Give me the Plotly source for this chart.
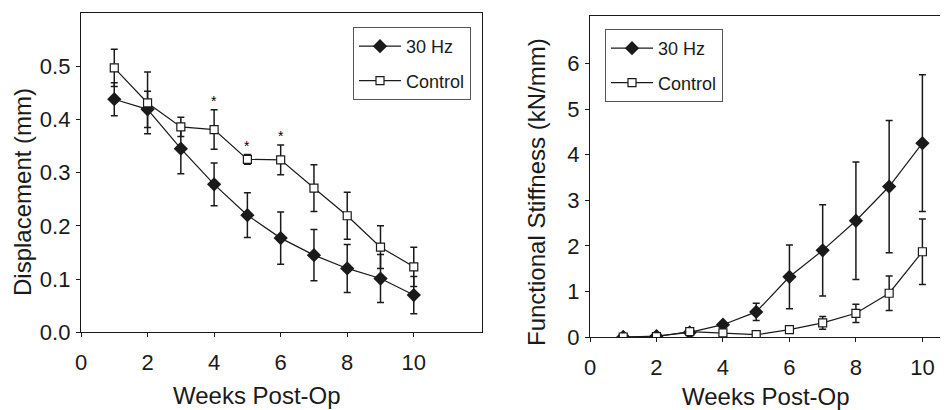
import plotly.graph_objects as go

weeks = [1, 2, 3, 4, 5, 6, 7, 8, 9, 10]

disp_30 = [0.438, 0.419, 0.345, 0.278, 0.220, 0.177, 0.145, 0.120, 0.101, 0.070]
disp_30_err = [0.031, 0.034, 0.047, 0.040, 0.042, 0.049, 0.048, 0.045, 0.045, 0.035]
disp_ctrl = [0.497, 0.431, 0.386, 0.381, 0.325, 0.324, 0.271, 0.219, 0.160, 0.123]
disp_ctrl_err = [0.035, 0.058, 0.018, 0.037, 0.009, 0.028, 0.044, 0.044, 0.040, 0.037]

stiff_30 = [0.0, 0.02, 0.10, 0.27, 0.55, 1.32, 1.90, 2.55, 3.30, 4.25]
stiff_30_err = [0, 0, 0.03, 0.05, 0.19, 0.70, 1.00, 1.29, 1.45, 1.50]
stiff_ctrl = [0.0, 0.01, 0.12, 0.09, 0.05, 0.16, 0.31, 0.52, 0.96, 1.87]
stiff_ctrl_err = [0, 0, 0.02, 0.02, 0.02, 0.03, 0.14, 0.20, 0.38, 0.72]

sig_weeks = [4, 5, 6]

C = "#1a1a1a"
FONT = "Liberation Sans, Arial, sans-serif"

# page body has an 8px margin: figure is 940x402 placed at (8, 8)
W, H, OFF = 940, 402, 8


def fx(px):
    return (px - OFF) / W


def fy(py):
    return 1 - (py - OFF) / H


fig = go.Figure()


def add_pair(x, y30, e30, yc, ec, xa, ya, leg):
    fig.add_trace(go.Scatter(
        x=x, y=y30, name="30 Hz", mode="lines+markers",
        line=dict(color=C, width=1.2),
        marker=dict(symbol="diamond", size=11, color=C),
        error_y=dict(type="data", array=e30, color=C, thickness=1.5, width=3.5),
        xaxis=xa, yaxis=ya, legend=leg, legendgroup=leg + "a"))
    fig.add_trace(go.Scatter(
        x=x, y=yc, name="Control", mode="lines+markers",
        line=dict(color=C, width=1.2),
        marker=dict(symbol="square", size=8, color="white", line=dict(color=C, width=1.2)),
        error_y=dict(type="data", array=ec, color=C, thickness=1.5, width=3.5),
        xaxis=xa, yaxis=ya, legend=leg, legendgroup=leg + "b"))


add_pair(weeks, disp_30, disp_30_err, disp_ctrl, disp_ctrl_err, "x", "y", "legend")
add_pair(weeks, stiff_30, stiff_30_err, stiff_ctrl, stiff_ctrl_err, "x2", "y2", "legend2")

annotations = []
for w in sig_weeks:
    i = weeks.index(w)
    annotations.append(dict(x=w, y=disp_ctrl[i] + disp_ctrl_err[i] - 0.002, xref="x", yref="y",
                            text="*", showarrow=False, xanchor="center", yanchor="bottom",
                            font=dict(size=14, color="#000000", family=FONT)))

TITLE_FONT = dict(size=24, color=C, family=FONT)
annotations += [
    dict(x=fx(257), y=fy(395), xref="paper", yref="paper", text="Weeks Post-Op",
         showarrow=False, xanchor="center", yanchor="middle", font=TITLE_FONT),
    dict(x=fx(766), y=fy(396), xref="paper", yref="paper", text="Weeks Post-Op",
         showarrow=False, xanchor="center", yanchor="middle", font=TITLE_FONT),
    dict(x=fx(22), y=fy(192), xref="paper", yref="paper", text="Displacement (mm)",
         showarrow=False, textangle=-90, xanchor="center", yanchor="middle", font=TITLE_FONT),
    dict(x=fx(536), y=fy(192), xref="paper", yref="paper", text="Functional Stiffness (kN/mm)",
         showarrow=False, textangle=-90, xanchor="center", yanchor="middle", font=TITLE_FONT),
]

axis_common = dict(showgrid=False, zeroline=False, showline=True, linecolor=C, linewidth=1.3,
                   ticks="outside", ticklen=4, tickwidth=1.2, tickcolor=C, automargin=False,
                   tickfont=dict(size=22, color=C, family=FONT))

legend_common = dict(bgcolor="white", bordercolor="#555", borderwidth=1,
                     font=dict(size=18, color=C, family=FONT), traceorder="grouped",
                     tracegroupgap=8, xanchor="left", yanchor="top", itemwidth=42)

fig.update_layout(
    template="none",
    width=W, height=H, margin=dict(l=0, r=0, t=0, b=0, pad=0),
    paper_bgcolor="white", plot_bgcolor="white",
    showlegend=True,
    xaxis=dict(axis_common, domain=[fx(81), fx(482)], range=[0, 12.05],
               tickvals=[0, 2, 4, 6, 8, 10], mirror=True, anchor="y", ticklabelstandoff=6),
    yaxis=dict(axis_common, domain=[fy(332.3), fy(13)], range=[0, 0.6],
               tickvals=[0, 0.1, 0.2, 0.3, 0.4, 0.5], tickformat=".1f", mirror=True, anchor="x",
               ticklabelstandoff=1),
    xaxis2=dict(axis_common, domain=[fx(590), 1.0], range=[0, 10.77],
                tickvals=[0, 2, 4, 6, 8, 10], mirror=True, anchor="y2", ticklabelstandoff=6),
    yaxis2=dict(axis_common, domain=[fy(337), fy(16)], range=[0, 7.04],
                tickvals=[0, 1, 2, 3, 4, 5, 6], mirror=False, anchor="x2", ticklabelstandoff=1),
    legend=dict(legend_common, x=fx(353), y=fy(27)),
    legend2=dict(legend_common, x=fx(605), y=fy(29)),
    annotations=annotations,
)

fig.write_html("out.html")
